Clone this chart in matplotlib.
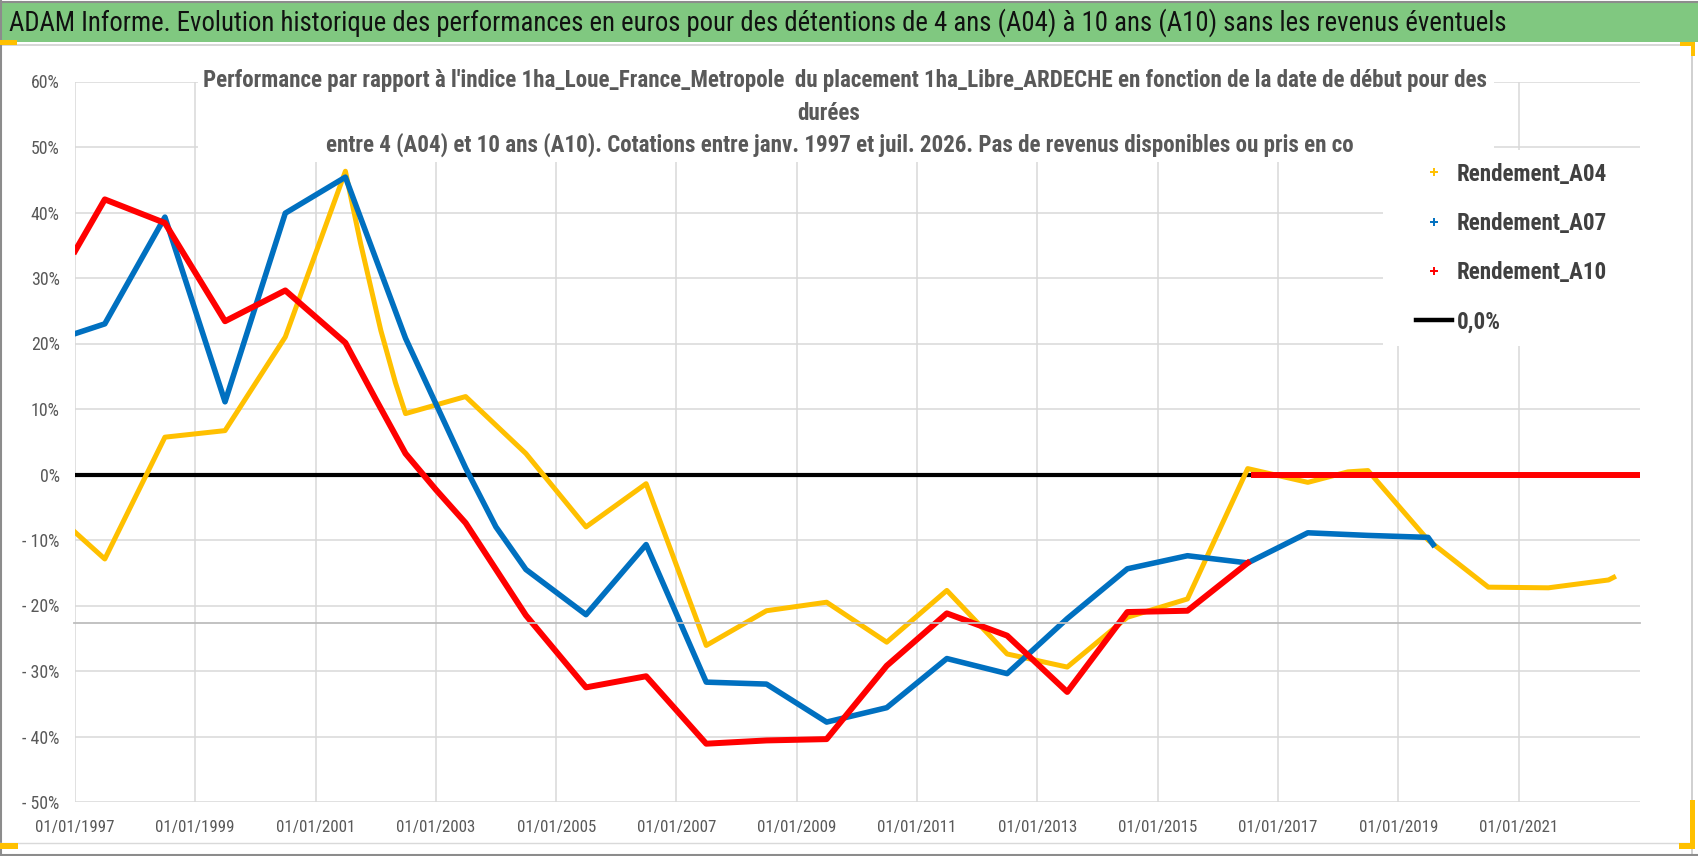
import numpy as np
import matplotlib
matplotlib.use("Agg")
import matplotlib.pyplot as plt
import matplotlib.dates as mdates
import matplotlib.font_manager as fm
from matplotlib.lines import Line2D
from matplotlib.patches import Rectangle

# ---------------- data ----------------
a04_dates = ['1997-01-01', '1997-07-01', '1998-07-01', '1999-07-01', '2000-07-01', '2001-07-01',
             '2001-10-01', '2002-02-01', '2002-05-01', '2002-07-01', '2003-07-01', '2004-07-01',
             '2005-07-01', '2006-07-01', '2007-07-01', '2008-07-01', '2009-07-01', '2010-07-01',
             '2011-07-01', '2012-07-01', '2013-07-01', '2014-07-01', '2015-07-01', '2016-07-01',
             '2017-07-01', '2018-03-01', '2018-07-01', '2019-07-01', '2020-07-01', '2021-07-01',
             '2022-07-01', '2022-08-01']
a04_vals = [-8.8, -12.9, 5.7, 6.7, 21.0, 46.3,
            35.3, 22.0, 14.0, 9.3, 11.9, 3.2,
            -8.0, -1.4, -26.1, -20.8, -19.5, -25.6,
            -17.7, -27.4, -29.4, -21.8, -19.0, 0.9,
            -1.2, 0.4, 0.6, -10.0, -17.2, -17.3,
            -16.1, -15.7]

a07_dates = ['1997-01-01', '1997-07-01', '1998-07-01', '1999-07-01', '2000-07-01', '2001-07-01',
             '2002-07-01', '2003-07-01', '2004-01-01', '2004-07-01', '2005-07-01',
             '2006-07-01', '2007-07-01', '2008-07-01', '2009-07-01', '2010-07-01', '2011-07-01',
             '2012-07-01', '2013-07-01', '2014-07-01', '2015-07-01', '2016-07-01', '2017-07-01',
             '2018-07-01', '2019-07-01', '2019-08-01']
a07_vals = [21.5, 23.0, 39.3, 11.1, 39.9, 45.4,
            20.8, 1.0, -8.0, -14.5, -21.4,
            -10.7, -31.7, -32.0, -37.8, -35.6, -28.1,
            -30.4, -22.0, -14.4, -12.4, -13.5, -8.9,
            -9.3, -9.6, -10.7]

a10_dates = ['1997-01-01', '1997-07-01', '1998-07-01', '1999-07-01', '2000-07-01', '2001-07-01',
             '2002-01-01', '2002-07-01', '2003-01-01', '2003-07-01', '2004-07-01', '2005-07-01',
             '2006-07-01', '2007-07-01', '2008-07-01', '2009-07-01', '2010-07-01', '2011-07-01',
             '2012-07-01', '2013-07-01', '2014-07-01', '2015-07-01', '2016-07-01']
a10_vals = [34.1, 42.0, 38.4, 23.4, 28.1, 20.1,
            11.5, 3.2, -2.3, -7.4, -21.5, -32.5,
            -30.8, -41.1, -40.6, -40.4, -29.2, -21.2,
            -24.6, -33.2, -21.0, -20.8, -13.5]
a10_tail_dates = ['2016-07-22', '2023-01-05']
a10_tail_vals = [0.0, 0.0]

zero_dates = ['1997-01-01', '2023-01-05']
zero_vals = [0.0, 0.0]

series_labels = ['Rendement_A04', 'Rendement_A07', 'Rendement_A10', '0,0%']

y_ticks = [60, 50, 40, 30, 20, 10, 0, -10, -20, -30, -40, -50]
y_tick_labels = ['60%', '50%', '40%', '30%', '20%', '10%', '0%',
                 '- 10%', '- 20%', '- 30%', '- 40%', '- 50%']
x_tick_dates = ['1997-01-01', '1999-01-01', '2001-01-01', '2003-01-01', '2005-01-01',
                '2007-01-01', '2009-01-01', '2011-01-01', '2013-01-01', '2015-01-01',
                '2017-01-01', '2019-01-01', '2021-01-01']
x_tick_labels = ['01/01/1997', '01/01/1999', '01/01/2001', '01/01/2003', '01/01/2005',
                 '01/01/2007', '01/01/2009', '01/01/2011', '01/01/2013', '01/01/2015',
                 '01/01/2017', '01/01/2019', '01/01/2021']
x_limits = ['1997-01-01', '2023-01-08']

header_text = ("ADAM Informe. Evolution historique des performances en euros pour des détentions "
               "de 4 ans (A04) à 10 ans (A10) sans les revenus éventuels")
title_lines = ["Performance par rapport à l'indice 1ha_Loue_France_Metropole  du placement "
               "1ha_Libre_ARDECHE en fonction de la date de début pour des",
               "durées",
               "entre 4 (A04) et 10 ans (A10). Cotations entre janv. 1997 et juil. 2026. "
               "Pas de revenus disponibles ou pris en co"]

# ---------------- style ----------------
avail = {f.name for f in fm.fontManager.ttflist}
def pick(*names):
    for n in names:
        if n in avail:
            return n
    return 'DejaVu Sans'
FONT = pick('Liberation Sans Narrow', 'Roboto Condensed', 'Open Sans Condensed',
            'Noto Sans Condensed', 'Liberation Sans', 'Roboto')
plt.rcParams['font.family'] = [FONT, 'DejaVu Sans']

W, H = 1698, 856
C_A04, C_A07, C_A10 = '#FFC000', '#0070C0', '#FF0000'
GRID = '#D9D9D9'
TXT = '#595959'

fig = plt.figure(figsize=(W / 100, H / 100), dpi=100)
fig.patch.set_facecolor('white')
renderer = fig.canvas.get_renderer()

def fx(px):
    return px / W

def fy(py):  # py measured from top
    return 1 - py / H

def fit_size(text, target_w, weight='normal', base=20):
    t = fig.text(0, 0, text, fontsize=base, fontweight=weight)
    w = t.get_window_extent(renderer).width
    t.remove()
    return base * target_w / w

# axes
L, R, T, B = 75, 1640, 81.5, 802
ax = fig.add_axes([fx(L), fy(B), fx(R - L), (B - T) / H])
ax.set_facecolor('white')
for s in ax.spines.values():
    s.set_visible(False)

d = lambda lst: np.array(lst, dtype='datetime64[D]')

ax.plot(d(zero_dates), zero_vals, color='black', lw=3.0, zorder=2, solid_capstyle='butt')
ax.plot(d(a04_dates), a04_vals, color=C_A04, lw=3.6, zorder=3)
ax.plot(d(a07_dates), a07_vals, color=C_A07, lw=4.0, zorder=4)
ax.plot(d(a10_dates), a10_vals, color=C_A10, lw=4.3, zorder=5)
ax.plot(d(a10_tail_dates), a10_tail_vals, color=C_A10, lw=4.3, zorder=5, solid_capstyle='butt')

xl = d(x_limits)
ax.set_xlim(mdates.date2num(xl[0]), mdates.date2num(xl[1]))
ax.set_ylim(-50, 60)
ax.set_yticks(y_ticks)
ax.set_xticks(mdates.date2num(d(x_tick_dates)))

xs = fit_size('01/01/1997', 79)
ys = fit_size('40%', 29)
ax.set_yticklabels(y_tick_labels, fontsize=ys, color=TXT)
ax.set_xticklabels(x_tick_labels, fontsize=xs, color=TXT)
ax.tick_params(axis='both', length=0)
ax.tick_params(axis='y', pad=11)
ax.tick_params(axis='x', pad=13)
ax.grid(True, color=GRID, lw=1.1)
ax.set_axisbelow(True)

# darker horizontal line seen in the reference
fig.add_artist(Line2D([fx(74), fx(R)], [fy(622.7), fy(622.7)], color='#BDBDBD', lw=1.3,
                      transform=fig.transFigure, zorder=0.5))

# white boxes hiding gridlines behind title and legend
fig.add_artist(Rectangle((fx(198), fy(162)), fx(1494 - 198), (162 - 58) / H,
                         transform=fig.transFigure, facecolor='white', edgecolor='none', zorder=1))
fig.add_artist(Rectangle((fx(1383), fy(346)), fx(1650 - 1383), (346 - 150) / H,
                         transform=fig.transFigure, facecolor='white', edgecolor='none', zorder=1))

# header band
fig.add_artist(Rectangle((0, fy(42)), 1, (42 - 3) / H, transform=fig.transFigure,
                         facecolor='#80C880', edgecolor='none', zorder=1))
hs = fit_size(header_text, 1496)
fig.text(fx(9), fy(23), header_text, fontsize=hs, color='#111111', ha='left', va='center',
         zorder=3)

# chart title
ts = fit_size(title_lines[0], 1283, weight='bold')
fig.text(fx(845), fy(81), title_lines[0], fontsize=ts, color=TXT, fontweight='bold',
         ha='center', va='center', zorder=3)
fig.text(fx(829), fy(113), title_lines[1], fontsize=ts, color=TXT, fontweight='bold',
         ha='center', va='center', zorder=3)
fig.text(fx(840), fy(145), title_lines[2], fontsize=ts, color=TXT, fontweight='bold',
         ha='center', va='center', zorder=3)

# borders and selection handles
def fline(x0, y0, x1, y1, c, lw):
    fig.add_artist(Line2D([fx(x0), fx(x1)], [fy(y0), fy(y1)], color=c, lw=lw,
                          transform=fig.transFigure, zorder=2))
fline(0, 1.5, W, 1.5, '#8C8C8C', 1.5)
fline(0, 44.5, 1692, 44.5, '#D0D0D0', 1.2)
fline(1, 0, 1, H, '#8C8C8C', 1.5)
fline(1692, 44, 1692, 856, '#C8C8C8', 1.2)
fline(0, 843, 1692, 843, '#D9D9D9', 1.0)
fline(0, 855, W, 855, '#8C8C8C', 1.5)

def frect(x0, y0, x1, y1, c='#FFC000'):
    fig.add_artist(Rectangle((fx(x0), fy(y1)), fx(x1 - x0), (y1 - y0) / H,
                             transform=fig.transFigure, facecolor=c, edgecolor='none', zorder=3))
frect(0, 40, 17, 45)
frect(1680, 42, 1695, 46)
frect(1691, 42, 1695, 56)
frect(0, 843, 18, 849)
frect(1690, 800, 1695, 849)
frect(1679, 843, 1695, 849)

# legend
handles = [Line2D([], [], color=C_A04, marker='+', ls='none', ms=6, mew=1.4),
           Line2D([], [], color=C_A07, marker='+', ls='none', ms=6, mew=1.4),
           Line2D([], [], color=C_A10, marker='+', ls='none', ms=6, mew=1.4),
           Line2D([], [], color='black', lw=3.2)]
ls_ = fit_size('Rendement_A04', 150, weight='bold')
fs_px = ls_ * 100 / 72

def make_leg(spacing, anchor):
    return fig.legend(handles, series_labels, loc='upper left', bbox_to_anchor=anchor,
                      bbox_transform=fig.transFigure, frameon=False,
                      prop={'size': ls_, 'weight': 'bold'},
                      labelcolor='#404040', handlelength=36 / fs_px,
                      handletextpad=5 / fs_px, labelspacing=spacing, borderpad=0,
                      borderaxespad=0)

spacing = 0.8
leg = make_leg(spacing, (fx(1416), fy(150)))
fig.canvas.draw()
tx = leg.get_texts()
b0 = tx[0].get_window_extent(renderer)
b3 = tx[-1].get_window_extent(renderer)
pitch = ((b0.y0 + b0.y1) / 2 - (b3.y0 + b3.y1) / 2) / 3
spacing += (49.3 - pitch) / fs_px
leg.remove()
leg = make_leg(spacing, (fx(1416), fy(150)))
fig.canvas.draw()
b0 = leg.get_texts()[0].get_window_extent(renderer)
dxp = 1457 - b0.x0
dyp = (H - 174) - (b0.y0 + b0.y1) / 2
leg.set_bbox_to_anchor((fx(1416 + dxp), fy(150) + dyp / H), transform=fig.transFigure)

fig.savefig('out.png', dpi=100, facecolor='white')
